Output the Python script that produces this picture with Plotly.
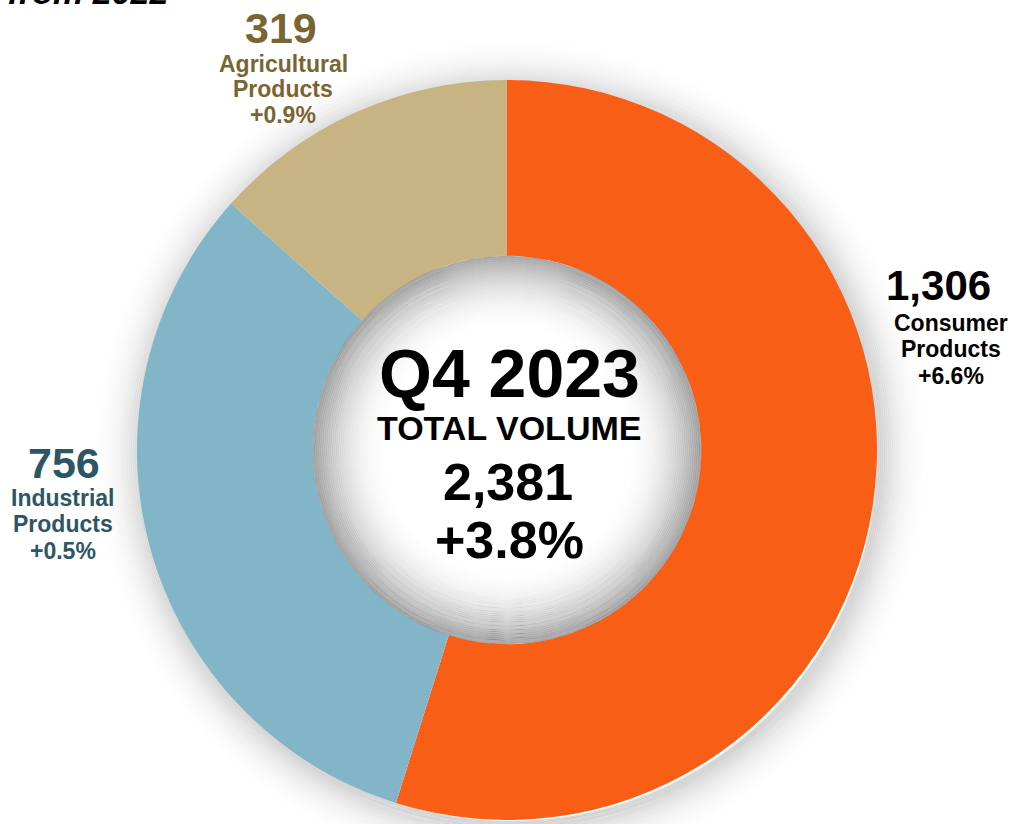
import plotly.graph_objects as go

# ---- data ----
segments = ["Consumer Products", "Industrial Products", "Agricultural Products"]
volumes = [1306, 756, 319]
changes = ["+6.6%", "+0.5%", "+0.9%"]
colors = ["#F95E16", "#82B5C8", "#C7B482"]
total_label = "2,381"
total_change = "+3.8%"
period = "Q4 2023"

W, H = 1014, 824
FONT = "Arial, Liberation Sans, sans-serif"

def px(x):
    return x / W

def py(y):
    return 1 - y / H

# donut geometry (pixels)
cx, cy, R = 507, 450, 370
hole = 0.525

fig = go.Figure(go.Pie(
    labels=segments,
    values=volumes,
    marker=dict(colors=colors, line=dict(width=0)),
    hole=hole,
    sort=False,
    direction="clockwise",
    rotation=0,
    textinfo="none",
    hoverinfo="label+value",
    showlegend=False,
    domain=dict(x=[px(cx - R), px(cx + R)], y=[py(cy + R), py(cy - R)]),
))

shapes = []
# soft outer shadow (rings, darkest next to the donut)
M = 56
for k in range(-4, M, 2):
    r = R + k + 1
    ox, oy = 4, 5
    a = 0.15 * (1 - max(k, 0) / M) ** 2.4
    shapes.append(dict(type="circle", xref="paper", yref="paper", layer="below",
                       x0=px(cx + ox - r), x1=px(cx + ox + r),
                       y0=py(cy + oy + r), y1=py(cy + oy - r),
                       fillcolor="rgba(0,0,0,0)",
                       line=dict(width=2.2, color=f"rgba(0,0,0,{a:.3f})")))
# inner shadow in the hole (rings, darkest at the rim)
rh = R * hole
N = 80
for k in range(0, N, 2):
    r = rh - k - 1
    a = 0.34 * (1 - k / N) ** 2.2
    shapes.append(dict(type="circle", xref="paper", yref="paper", layer="above",
                       x0=px(cx - r), x1=px(cx + r),
                       y0=py(cy + r), y1=py(cy - r),
                       fillcolor="rgba(0,0,0,0)",
                       line=dict(width=2.2, color=f"rgba(0,0,0,{a:.3f})")))

ann = []

def add(text, x, y, size, color="#000000", bold=True):
    t = f"<b>{text}</b>" if bold else text
    ann.append(dict(text=t, x=px(x), y=py(y), xref="paper", yref="paper",
                    xanchor="center", yanchor="middle", showarrow=False,
                    font=dict(family=FONT, size=size, color=color)))

# segment labels
agri_c = "#7A6432"
ind_c = "#2C5664"
cons_c = "#000000"

add(f"{volumes[2]:,}", 281, 28, 43, agri_c)
add("Agricultural", 283, 64, 23, agri_c)
add("Products", 283, 89, 23, agri_c)
add(changes[2], 283, 115, 23, agri_c)

add(f"{volumes[0]:,}", 938, 286, 42, cons_c)
add("Consumer", 951, 323, 23, cons_c)
add("Products", 951, 349, 23, cons_c)
add(changes[0], 951, 376, 23, cons_c)

add(f"{volumes[1]:,}", 64, 463, 43, ind_c)
add("Industrial", 63, 498, 23, ind_c)
add("Products", 63, 524, 23, ind_c)
add(changes[1], 63, 551, 23, ind_c)

# centre text
add(period, 509, 373, 68)
add("TOTAL VOLUME", 509, 428, 34)
add(total_label, 508, 482, 52)
add(total_change, 509, 540, 52)

# cropped title at the top-left
ann.append(dict(text="<b><i>Carloads &amp; % Change from 2022</i></b>", x=px(170), y=py(-8),
                xref="paper", yref="paper", xanchor="right", yanchor="middle",
                showarrow=False, font=dict(family=FONT, size=34, color="#000000")))

fig.update_layout(
    width=W, height=H,
    margin=dict(l=0, r=0, t=0, b=0),
    paper_bgcolor="#FFFFFF",
    plot_bgcolor="#FFFFFF",
    shapes=shapes,
    annotations=ann,
)

fig.write_html("out.html",
               config={"displayModeBar": False},
               post_script="document.body.style.margin='0px';document.body.style.padding='0px';")
